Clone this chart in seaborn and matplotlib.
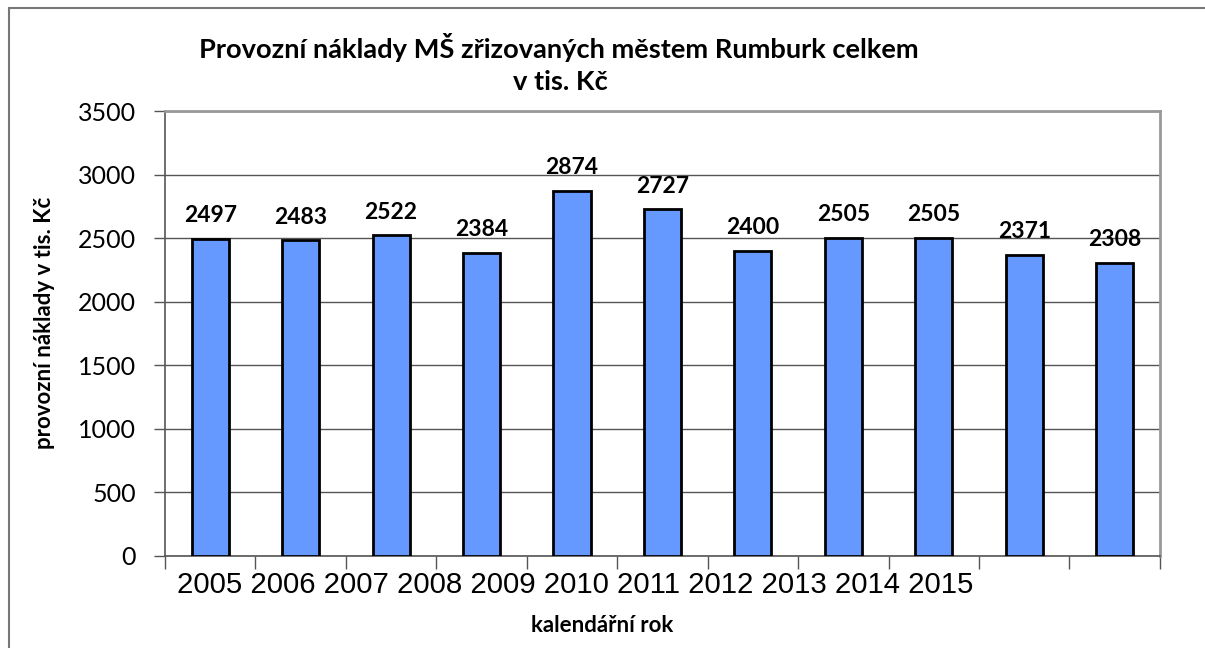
import matplotlib
matplotlib.use("Agg")
import matplotlib.pyplot as plt
import seaborn as sns
import numpy as np
import pandas as pd

# data
years = ["2005", "2006", "2007", "2008", "2009", "2010",
         "2011", "2012", "2013", "2014", "2015"]
costs = [2497, 2483, 2522, 2384, 2874, 2727, 2400, 2505, 2505, 2371, 2308]
y_ticks = [0, 500, 1000, 1500, 2000, 2500, 3000, 3500]

title_1 = "Provozní náklady MŠ zřizovaných městem Rumburk celkem"
title_2 = "v tis. Kč"
y_title = "provozní náklady v tis. Kč"
x_title = "kalendářní rok"

sns.set_theme(style="white")
plt.rcParams['font.family'] = ['Lato', 'DejaVu Sans']
plt.rcParams['text.color'] = 'black'
plt.rcParams['axes.labelcolor'] = 'black'
plt.rcParams['xtick.color'] = 'black'
plt.rcParams['ytick.color'] = 'black'

df = pd.DataFrame({"rok": years, "naklady": costs})

fig = plt.figure(figsize=(12.05, 6.48), dpi=100)
ax = fig.add_axes([0.1369, 0.142, 0.8257, 0.6867])

sns.barplot(data=df, x="rok", y="naklady", color="#6699FF", saturation=1,
            width=0.41, edgecolor="black", linewidth=2, ax=ax, zorder=3)

ax.set_ylim(0, 3500)
ax.set_xlim(-0.5, len(years) - 0.5)
ax.set_yticks(y_ticks)
ax.set_yticklabels([str(t) for t in y_ticks], fontsize=18)
ax.yaxis.grid(True, color="#555555", linewidth=1)
ax.set_axisbelow(True)

# tick marks sit on the category boundaries, labels are run together below
ax.set_xticks(np.arange(-0.5, len(years), 1))
ax.set_xticklabels([])
ax.tick_params(axis="x", direction="out", length=9, width=1, color="#555555", bottom=True)
ax.tick_params(axis="y", direction="out", length=8, width=1, color="#555555", left=True, pad=13)
ax.text(0.012, -0.065, " ".join(years), transform=ax.transAxes, ha="left", va="center",
        fontsize=21.2, color="black", family=["Liberation Sans", "DejaVu Sans"])

for side in ["top", "right"]:
    ax.spines[side].set_color("#999999")
    ax.spines[side].set_linewidth(2)
for side in ["left", "bottom"]:
    ax.spines[side].set_color("#555555")
    ax.spines[side].set_linewidth(1.2)

ax.bar_label(ax.containers[0], labels=[str(v) for v in costs], padding=9,
             fontsize=16.5, fontweight="bold", color="black")

ax.set_xlabel("")
ax.set_ylabel(y_title, fontsize=16, fontweight="bold")
ax.yaxis.set_label_coords(-0.111, 0.524)
fig.text(0.4996, 0.035, x_title, ha="center", va="center", fontsize=16, fontweight="bold")

fig.text(0.464, 0.927, title_1, ha="center", va="center", fontsize=19.6, fontweight="bold")
fig.text(0.465, 0.873, title_2, ha="center", va="center", fontsize=19.6, fontweight="bold")

# grey frame of the chart area (left and top edges visible)
fig.add_artist(plt.Line2D([0.0075, 0.0075], [0.0, 0.988], transform=fig.transFigure,
                          color="#777777", linewidth=1.5))
fig.add_artist(plt.Line2D([0.0075, 1.0], [0.988, 0.988], transform=fig.transFigure,
                          color="#777777", linewidth=1.5))

fig.savefig("out.png", dpi=100)
plt.close(fig)
